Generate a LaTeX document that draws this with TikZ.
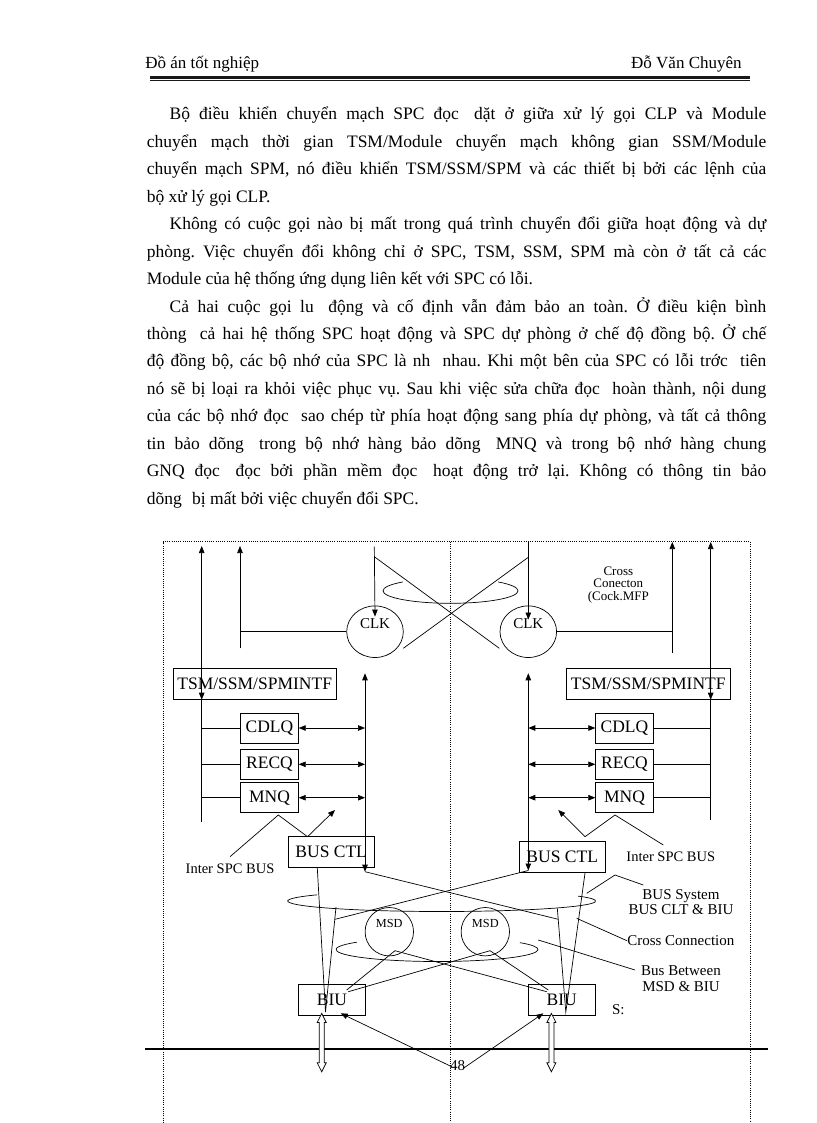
\documentclass[tikz,border=0pt]{standalone}
\usepackage{fontspec}
\setmainfont{Liberation Serif}
\usetikzlibrary{arrows.meta, calc, shapes.geometric}
\newcommand{\gapw}{\hspace*{6pt}}
\frenchspacing

\begin{document}
\begin{tikzpicture}[x=1pt,y=1pt,line width=0.7pt,>={Triangle[length=7pt,width=5.5pt]},
  frame/.style={line width=0.6pt,dash pattern=on 1pt off 1.2pt},
  txt/.style={anchor=base west,inner sep=0pt,font=\fontsize{17.5}{20}\selectfont},
  box/.style={draw,line width=0.8pt,inner sep=0pt,minimum height=31pt,font=\fontsize{17.5}{20}\selectfont},
  qbox/.style={box,minimum width=57.6pt,minimum height=30pt},
  ring/.style={draw,ellipse,inner sep=0pt},
  lbl/.style={inner sep=0pt,align=center}]
\useasboundingbox (0,0) rectangle (816,-1123);
\fill[white] (0,0) rectangle (816,-1123);

% header
\node[txt,font=\fontsize{17}{20}\selectfont] (hdL) at (145,-68.3) {Đồ án tốt nghiệp};
\node[txt,anchor=base east,font=\fontsize{17}{20}\selectfont] (hdR) at (742,-68.3) {Đỗ Văn Chuyên};
\node[anchor=north west,inner sep=0pt] (hrule1) at (150,-76) {\color{black!90}\rule{600pt}{2.4pt}};
\node[anchor=north west,inner sep=0pt] (hrule2) at (150,-79.4) {\color{black!90}\rule{600pt}{1pt}};

% body text
\node[txt] (ln1) at (169.3,-120) {\makebox[596.7pt][s]{Bộ điều khiển chuyển mạch SPC đọc \gapw dặt ở giữa xử lý gọi CLP và Module}};
\node[txt] (ln2) at (146.5,-147.43) {\makebox[619.5pt][s]{chuyển mạch thời gian TSM/Module chuyển mạch không gian SSM/Module}};
\node[txt] (ln3) at (146.5,-174.86) {\makebox[619.5pt][s]{chuyển mạch SPM, nó điều khiển TSM/SSM/SPM và các thiết bị bởi các lệnh của}};
\node[txt] (ln4) at (146.5,-202.29) {bộ xử lý gọi CLP.};
\node[txt] (ln5) at (169.3,-229.72) {\makebox[596.7pt][s]{Không có cuộc gọi nào bị mất trong quá trình chuyển đổi giữa hoạt động và dự}};
\node[txt] (ln6) at (146.5,-257.15) {\makebox[619.5pt][s]{phòng. Việc chuyển đổi không chỉ ở SPC, TSM, SSM, SPM mà còn ở tất cả các}};
\node[txt] (ln7) at (146.5,-284.58) {Module của hệ thống ứng dụng liên kết với SPC có lỗi.};
\node[txt] (ln8) at (169.3,-312.01) {\makebox[596.7pt][s]{Cả hai cuộc gọi lu \gapw động và cố định vẫn đảm bảo an toàn. Ở điều kiện bình}};
\node[txt] (ln9) at (146.5,-339.44) {\makebox[619.5pt][s]{thòng \gapw cả hai hệ thống SPC hoạt động và SPC dự phòng ở chế độ đồng bộ. Ở chế}};
\node[txt] (ln10) at (146.5,-366.87) {\makebox[619.5pt][s]{độ đồng bộ, các bộ nhớ của SPC là nh \gapw nhau. Khi một bên của SPC có lỗi trớc \gapw tiên}};
\node[txt] (ln11) at (146.5,-394.3) {\makebox[619.5pt][s]{nó sẽ bị loại ra khỏi việc phục vụ. Sau khi việc sửa chữa đọc \gapw hoàn thành, nội dung}};
\node[txt] (ln12) at (146.5,-421.73) {\makebox[619.5pt][s]{của các bộ nhớ đọc \gapw sao chép từ phía hoạt động sang phía dự phòng, và tất cả thông}};
\node[txt] (ln13) at (146.5,-449.16) {\makebox[619.5pt][s]{tin bảo dõng \gapw trong bộ nhớ hàng bảo dõng \gapw MNQ và trong bộ nhớ hàng chung}};
\node[txt] (ln14) at (146.5,-476.59) {\makebox[619.5pt][s]{GNQ đọc \gapw đọc bởi phần mềm đọc \gapw hoạt động trở lại. Không có thông tin bảo}};
\node[txt] (ln15) at (146.5,-504.02) {dõng \gapw bị mất bởi việc chuyển đổi SPC.};

% frame of the figure
\draw[frame] (163.3,-1123) -- (163.3,-541.7) -- (750,-541.7) -- (750,-1123);
\draw[frame] (450,-541.7) -- (450,-1123);

% clocks and cross connection
\node[ring,minimum width=56.6pt,minimum height=51.6pt] (clkL) at (375,-631.7) {};
\node[ring,minimum width=56.6pt,minimum height=51.6pt] (clkR) at (528.3,-631.7) {};
\node[lbl,font=\fontsize{15}{15}\selectfont] (clkLt) at (375,-623.3) {CLK};
\node[lbl,font=\fontsize{15}{15}\selectfont] (clkRt) at (528.3,-623.3) {CLK};
\coordinate (loopc) at (450.5,-590.8);
\draw (loopc) ++(135:67.5 and 12.5) arc[start angle=135,end angle=405,x radius=67.5,y radius=12.5];
\coordinate (xa1) at (374.3,-556.7);
\coordinate (xa2) at (499.3,-648.3);
\coordinate (xb1) at (528.3,-557.3);
\coordinate (xb2) at (403.3,-648.3);
\draw (xa1) -- (xa2);
\draw (xb1) -- (xb2);
\node[lbl,font=\fontsize{13}{12.5}\selectfont] (xnote) at (618.3,-585) {Cross\\Conecton\\(Cock.MFP};

% interface boxes
\node[box,minimum width=162.7pt] (tsmL) at (254.7,-683.8) {TSM/SSM/SPMINTF};
\node[box,minimum width=163.3pt] (tsmR) at (648.3,-683.8) {TSM/SSM/SPMINTF};

% vertical lines to the top
\coordinate (l1t) at (201.7,-546);
\coordinate (l1b) at (201.7,-821.7);
\coordinate (l2t) at (240,-546);
\coordinate (l2b) at (240,-648.3);
\coordinate (l3t) at (374.3,-546.7);
\coordinate (r1t) at (710.7,-542);
\coordinate (r1b) at (710.7,-820);
\coordinate (r2t) at (672.3,-542);
\coordinate (r2b) at (672.3,-653.3);
\coordinate (r3t) at (528.3,-541.7);
\draw[<->] (l1t) -- (l1t |- tsmL.south);
\draw (l1t |- tsmL.south) -- (l1b);
\draw[->] (l2b) -- (l2t);
\draw (l2t |- clkL.west) -- (clkL.west);
\draw[->] (l3t) -- ($(clkL.north)+(0,-11)$);
\draw[<->] (r1t) -- (r1t |- tsmR.south);
\draw (r1t |- tsmR.south) -- (r1b);
\draw[->] (r2b) -- (r2t);
\draw (clkR.east) -- (clkR.east -| r2t);
\draw[->] (r3t) -- ($(clkR.north)+(0,-14)$);

% queues
\node[qbox] (cdlqL) at (269.5,-728) {CDLQ};
\node[qbox] (recqL) at (269.5,-764.3) {RECQ};
\node[qbox] (mnqL) at (269.5,-797.7) {MNQ};
\node[qbox] (cdlqR) at (624.5,-728) {CDLQ};
\node[qbox] (recqR) at (624.5,-764.3) {RECQ};
\node[qbox] (mnqR) at (624.5,-797.7) {MNQ};

% bus lines
\coordinate (bLt) at (365,-673.3);
\coordinate (bLb) at (365,-871.7);
\coordinate (bRt) at (528.3,-673.3);
\coordinate (bRb) at (528.3,-870.5);
\draw[<->] (bLt) -- (bLb);
\draw[<->] (bRt) -- (bRb);
\foreach \q in {cdlq,recq,mnq} {
  \draw (l1t |- \q L.west) -- (\q L.west);
  \draw[<->] (\q L.east) -- (\q L.east -| bLt);
  \draw (\q R.east) -- (\q R.east -| r1t);
  \draw[<->] (\q R.west) -- (\q R.west -| bRt);
}

% bus control and interface units
\node[box,minimum width=85.7pt] (busL) at (331.2,-852.2) {BUS CTL};
\node[box,minimum width=85.7pt] (busR) at (562.2,-857.2) {BUS CTL};
\node[box,minimum width=67.4pt] (biuL) at (332,-999.5) {BIU};
\node[box,minimum width=67.4pt] (biuR) at (561.7,-999.5) {BIU};

% inter SPC bus
\node[lbl,font=\fontsize{14.5}{15}\selectfont] (ispcL) at (230,-868.3) {Inter SPC BUS};
\node[lbl,font=\fontsize{14.5}{15}\selectfont] (ispcR) at (670.8,-856.7) {Inter SPC BUS};
\coordinate (jL) at (278.3,-815);
\coordinate (kL) at (230,-856.7);
\coordinate (hL) at (307.5,-836.7);
\coordinate (aL) at (335,-810);
\coordinate (jR) at (615,-815);
\coordinate (kR) at (663.3,-845);
\coordinate (hR) at (585,-836.7);
\coordinate (aR) at (558.3,-810);
\draw (kL) -- (jL) -- (hL);
\draw[->] (hL) -- (aL);
\draw (kR) -- (jR) -- (hR);
\draw[->] (hR) -- (aR);

% MSD
\node[draw,circle,minimum size=48.4pt,inner sep=0pt] (msdL) at (389.3,-931.7) {};
\node[draw,circle,minimum size=48.4pt,inner sep=0pt] (msdR) at (485.3,-931.7) {};
\node[lbl,font=\fontsize{12.3}{12}\selectfont] (msdLt) at (389.3,-923.3) {MSD};
\node[lbl,font=\fontsize{12.3}{12}\selectfont] (msdRt) at (485.3,-923.3) {MSD};
\coordinate (busc) at (441.7,-901);
\coordinate (msdc) at (437,-949.5);
\draw (busc) ++(144:154 and 10.5) arc[start angle=144,end angle=387.7,x radius=154,y radius=10.5];
\draw (msdc) ++(142.6:101 and 12) arc[start angle=142.6,end angle=394.8,x radius=101,y radius=12];

% cross connection
\coordinate (cL) at (335,-919.3);
\coordinate (cR) at (558.3,-919.3);
\draw (cL) -- (bRb);
\draw (cR) -- (bLb);

% bus between BUS CTL and BIU
\coordinate (uL) at (336,-907);
\coordinate (vL) at (325.5,-1012);
\coordinate (uR) at (557.3,-908.3);
\coordinate (vR) at (565.8,-1012);
\draw ($(busL.south)+(-13.9,0)$) -- (vL) -- (uL);
\draw ($(busR.south)+(22.8,0)$) -- (vR) -- (uR);

% bus between MSD and BIU
\coordinate (mL) at (395,-950.7);
\coordinate (mR) at (490,-950.7);
\coordinate (eL1) at (346.7,-990);
\coordinate (eL2) at (348.3,-991.7);
\coordinate (eR1) at (548.3,-990);
\coordinate (eR2) at (546.7,-991.7);
\draw (eL1) -- (mL) -- (eR2);
\draw (eL2) -- (mR) -- (eR1);

% labels on the right
\node[lbl,font=\fontsize{15}{15}\selectfont] (bsys) at (681,-901.8) {BUS System\\BUS CLT \& BIU};
\node[lbl,font=\fontsize{15}{15}\selectfont] (xcon) at (680.8,-940.7) {Cross Connection};
\node[lbl,font=\fontsize{15}{15.7}\selectfont] (bbtw) at (681,-978.9) {Bus Between\\MSD \& BIU};
\coordinate (g1) at (643.3,-885);
\coordinate (g2) at (615,-875);
\coordinate (g3) at (586.7,-893.3);
\coordinate (g4) at (576.7,-918.3);
\coordinate (g5) at (635,-970);
\coordinate (g6) at (538.3,-940);
\draw (g1) -- (g2) -- (g3);
\draw (xcon.west) -- (g4);
\draw (g5) -- (g6);
\node[lbl,font=\fontsize{15}{15}\selectfont] (sfrag) at (618.3,-1010) {S:};

% footer
\draw[line width=2pt] (145,-1049.3) -- (768,-1049.3);
\node[lbl,font=\fontsize{15}{15}\selectfont] (pnum) at (457.5,-1066) {48};
\coordinate (pa) at (451.7,-1066.7);
\coordinate (pb) at (463.3,-1068.3);
\coordinate (tL) at (340.7,-1013.3);
\coordinate (tR) at (543.3,-1013.3);
\draw[->] (pa) -- (tL);
\draw[->] (pb) -- (tR);

% double block arrows under BIU
\foreach \u in {biuL,biuR} {
  \draw[fill=white] ($(\u.south)+(-10.3,2)$) -- ++(4.5,-9) -- ++(-2,0) -- ++(0,-40.4)
    -- ++(2,0) -- ++(-4.5,-9) -- ++(-4.5,9) -- ++(2,0) -- ++(0,40.4) -- ++(-2,0) -- cycle;
}
\end{tikzpicture}
\end{document}
